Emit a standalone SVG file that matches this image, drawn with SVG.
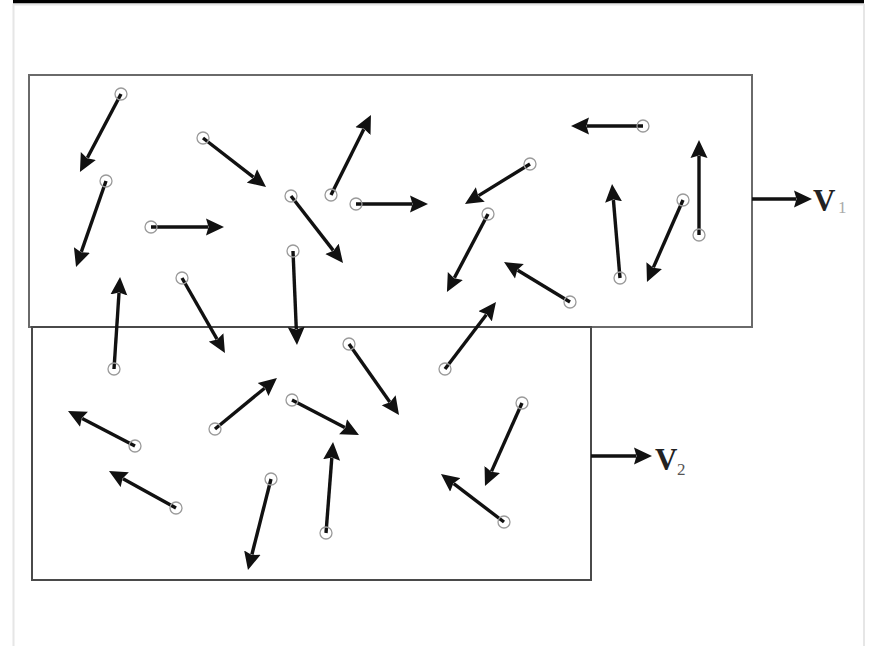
<svg xmlns="http://www.w3.org/2000/svg" width="872" height="646" viewBox="0 0 872 646">
<style>
.frame{fill:none;stroke:#e6e6e6;stroke-width:2}
.box1{fill:none;stroke:#6a6a6a;stroke-width:2}
.box2{fill:none;stroke:#4a4a4a;stroke-width:2}
.shaft{stroke:#111;stroke-width:3.4;fill:none;marker-end:url(#ah)}
.dot{fill:none;stroke:#9a9a9a;stroke-width:1.3}
.lbl{font-family:"Liberation Serif","Times New Roman",serif;font-weight:bold;font-size:31px;fill:#222}
.sub{font-family:"Liberation Serif","Times New Roman",serif;font-size:17px}
</style>
<defs>
<marker id="ah" markerUnits="userSpaceOnUse" markerWidth="20" markerHeight="18" viewBox="0 0 20 18" refX="2" refY="9" orient="auto">
<path d="M0,0.5 L18,9 L0,17.5 L2.5,9 Z" fill="#111"/>
</marker>
</defs>
<rect x="0" y="0" width="872" height="646" fill="#fff"/>
<g id="frame">
<rect x="13" y="0" width="851" height="3.5" fill="#000"/>
<line x1="13.5" y1="4" x2="13.5" y2="646" class="frame"/>
<line x1="864" y1="4" x2="864" y2="646" class="frame"/>
<line x1="13" y1="4.5" x2="864" y2="4.5" stroke="#e6e6e6" stroke-width="2"/>
</g>
<g id="box1"><rect x="29" y="75" width="723" height="252" class="box1"/></g>
<g id="box2"><rect x="32" y="327" width="559" height="253" class="box2"/></g>
<g id="label-v1"><text x="813" y="211" class="lbl">V</text><text x="838" y="213" class="sub" fill="#aaa">1</text></g>
<g id="label-v2"><text x="655" y="470" class="lbl">V</text><text x="677" y="475" class="sub" fill="#555">2</text></g>
<g id="connectors">
<line x1="752" y1="199" x2="796" y2="199" class="shaft"/>
<line x1="591" y1="456" x2="636" y2="456" class="shaft"/>
<line x1="121" y1="94" x2="87.4" y2="157.8" class="shaft"/>
<line x1="106" y1="181" x2="81.3" y2="251.9" class="shaft"/>
<line x1="203" y1="138" x2="253.4" y2="177.2" class="shaft"/>
<line x1="151" y1="227" x2="208" y2="227" class="shaft"/>
<line x1="291" y1="196" x2="333.2" y2="250.4" class="shaft"/>
<line x1="293" y1="251" x2="296.3" y2="329" class="shaft"/>
<line x1="182" y1="278" x2="217" y2="339.1" class="shaft"/>
<line x1="114" y1="369" x2="119" y2="293" class="shaft"/>
<line x1="331" y1="195" x2="363.8" y2="129.3" class="shaft"/>
<line x1="356" y1="204" x2="412" y2="204" class="shaft"/>
<line x1="530" y1="164" x2="478.6" y2="195.6" class="shaft"/>
<line x1="488" y1="214" x2="454.4" y2="277.8" class="shaft"/>
<line x1="570" y1="302" x2="517.7" y2="270.3" class="shaft"/>
<line x1="445" y1="369" x2="486.3" y2="314.7" class="shaft"/>
<line x1="643" y1="126" x2="587" y2="126" class="shaft"/>
<line x1="620" y1="278" x2="613.4" y2="200" class="shaft"/>
<line x1="683" y1="200" x2="653.4" y2="267.4" class="shaft"/>
<line x1="699" y1="235" x2="699" y2="156" class="shaft"/>
<line x1="135" y1="446" x2="82.2" y2="418.4" class="shaft"/>
<line x1="176" y1="508" x2="123" y2="478.7" class="shaft"/>
<line x1="215" y1="429" x2="264.6" y2="388.2" class="shaft"/>
<line x1="271" y1="479" x2="251.9" y2="554.5" class="shaft"/>
<line x1="292" y1="400" x2="344.8" y2="427.6" class="shaft"/>
<line x1="349" y1="344" x2="389.8" y2="401.9" class="shaft"/>
<line x1="326" y1="533" x2="331.8" y2="458" class="shaft"/>
<line x1="522" y1="403" x2="491.5" y2="471.4" class="shaft"/>
<line x1="504" y1="522" x2="453.7" y2="483.7" class="shaft"/>
</g>
<g id="particles">
<circle id="p1" cx="121" cy="94" r="6" class="dot"/>
<circle id="p2" cx="106" cy="181" r="6" class="dot"/>
<circle id="p3" cx="203" cy="138" r="6" class="dot"/>
<circle id="p4" cx="151" cy="227" r="6" class="dot"/>
<circle id="p5" cx="291" cy="196" r="6" class="dot"/>
<circle id="p6" cx="293" cy="251" r="6" class="dot"/>
<circle id="p7" cx="182" cy="278" r="6" class="dot"/>
<circle id="p8" cx="114" cy="369" r="6" class="dot"/>
<circle id="p9" cx="331" cy="195" r="6" class="dot"/>
<circle id="p10" cx="356" cy="204" r="6" class="dot"/>
<circle id="p11" cx="530" cy="164" r="6" class="dot"/>
<circle id="p12" cx="488" cy="214" r="6" class="dot"/>
<circle id="p13" cx="570" cy="302" r="6" class="dot"/>
<circle id="p14" cx="445" cy="369" r="6" class="dot"/>
<circle id="p15" cx="643" cy="126" r="6" class="dot"/>
<circle id="p16" cx="620" cy="278" r="6" class="dot"/>
<circle id="p17" cx="683" cy="200" r="6" class="dot"/>
<circle id="p18" cx="699" cy="235" r="6" class="dot"/>
<circle id="p19" cx="135" cy="446" r="6" class="dot"/>
<circle id="p20" cx="176" cy="508" r="6" class="dot"/>
<circle id="p21" cx="215" cy="429" r="6" class="dot"/>
<circle id="p22" cx="271" cy="479" r="6" class="dot"/>
<circle id="p23" cx="292" cy="400" r="6" class="dot"/>
<circle id="p24" cx="349" cy="344" r="6" class="dot"/>
<circle id="p25" cx="326" cy="533" r="6" class="dot"/>
<circle id="p26" cx="522" cy="403" r="6" class="dot"/>
<circle id="p27" cx="504" cy="522" r="6" class="dot"/>
</g>
</svg>
